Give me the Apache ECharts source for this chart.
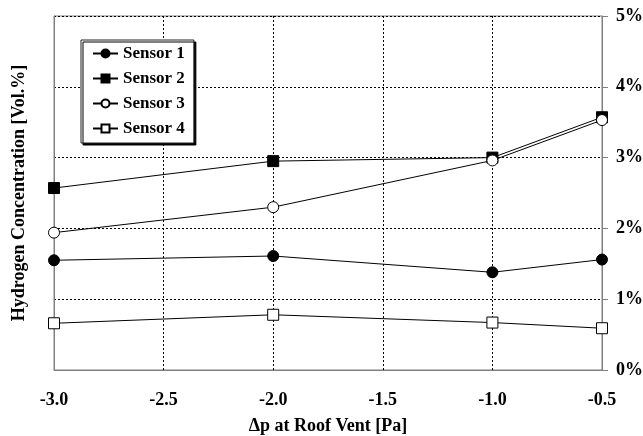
<!DOCTYPE html>
<html>
<head>
<meta charset="utf-8">
<script src="https://cdn.jsdelivr.net/npm/echarts@6/dist/echarts.min.js"></script>
<style>
  html, body { margin: 0; padding: 0; background: #fff; }
  #main { width: 643px; height: 436px; }
</style>
</head>
<body>
<div id="main"></div>
<script>
// pressure difference at roof vent [Pa]
var dp = [-3.0, -2.0, -1.0, -0.5];
// hydrogen concentration [Vol.%]
var sensor1 = [1.55, 1.61, 1.38, 1.56];
var sensor2 = [2.57, 2.95, 3.00, 3.57];
var sensor3 = [1.94, 2.30, 2.96, 3.53];
var sensor4 = [0.66, 0.78, 0.67, 0.59];
var names = ['Sensor 1', 'Sensor 2', 'Sensor 3', 'Sensor 4'];

var FONT = '"Liberation Serif", "Times New Roman", serif';

function pairs(vals) {
  return dp.map(function (x, i) { return [x, vals[i]]; });
}

function line(name, vals, symbol, filled) {
  return {
    name: name,
    type: 'line',
    data: pairs(vals),
    symbol: symbol,
    symbolSize: 11,
    lineStyle: { color: '#000', width: 1 },
    itemStyle: {
      color: filled ? '#000' : '#fff',
      borderColor: '#000',
      borderWidth: 1
    },
    emphasis: { disabled: true },
    animation: false
  };
}

var chart = echarts.init(document.getElementById('main'));
chart.setOption({
  backgroundColor: '#fff',
  animation: false,
  grid: {
    left: 54, right: 41, top: 16, bottom: 66,
    outerBoundsMode: 'none',
    containLabel: false,
    show: true, borderColor: '#808080', borderWidth: 1
  },
  legend: {
    data: names,
    orient: 'vertical',
    left: 81, top: 40,
    itemWidth: 25, itemHeight: 10, itemGap: 8,
    padding: [5, 9, 6, 11],
    backgroundColor: '#fff',
    borderColor: '#222', borderWidth: 1,
    shadowColor: '#000', shadowBlur: 0, shadowOffsetX: 2, shadowOffsetY: 2,
    textStyle: { fontFamily: FONT, fontWeight: 'bold', fontSize: 17, color: '#000' }
  },
  xAxis: {
    type: 'value',
    min: -3, max: -0.5, interval: 0.5,
    name: 'Δp at Roof Vent [Pa]',
    nameLocation: 'middle',
    nameGap: 47,
    nameTextStyle: { fontFamily: FONT, fontWeight: 'bold', fontSize: 18, color: '#000' },
    axisLine: { show: true, lineStyle: { color: '#808080' } },
    axisTick: { show: false },
    axisLabel: {
      margin: 21,
      fontFamily: FONT, fontWeight: 'bold', fontSize: 18, color: '#000',
      formatter: function (v) { return v.toFixed(1); }
    },
    splitLine: { show: true, lineStyle: { color: '#000', type: [2, 2], width: 1 } }
  },
  yAxis: [{
    type: 'value',
    position: 'right',
    min: 0, max: 5, interval: 1,
    axisLine: { show: true, lineStyle: { color: '#808080' } },
    axisTick: { show: true, inside: false, length: 6, lineStyle: { color: '#808080' } },
    axisLabel: {
      margin: 14,
      fontFamily: FONT, fontWeight: 'bold', fontSize: 18, color: '#000',
      formatter: '{value}%'
    },
    splitLine: { show: true, lineStyle: { color: '#000', type: [2, 2], width: 1 } }
  }, {
    type: 'value',
    position: 'left',
    min: 0, max: 5, interval: 1,
    name: 'Hydrogen Concentration [Vol.%]',
    nameLocation: 'middle',
    nameGap: 26,
    nameTextStyle: { fontFamily: FONT, fontWeight: 'bold', fontSize: 18, color: '#000' },
    axisLine: { show: true, lineStyle: { color: '#808080' } },
    axisTick: { show: false },
    axisLabel: { show: false },
    splitLine: { show: false }
  }],
  series: [
    line(names[0], sensor1, 'circle', true),
    line(names[1], sensor2, 'rect', true),
    line(names[2], sensor3, 'circle', false),
    line(names[3], sensor4, 'rect', false)
  ]
});
</script>
</body>
</html>
